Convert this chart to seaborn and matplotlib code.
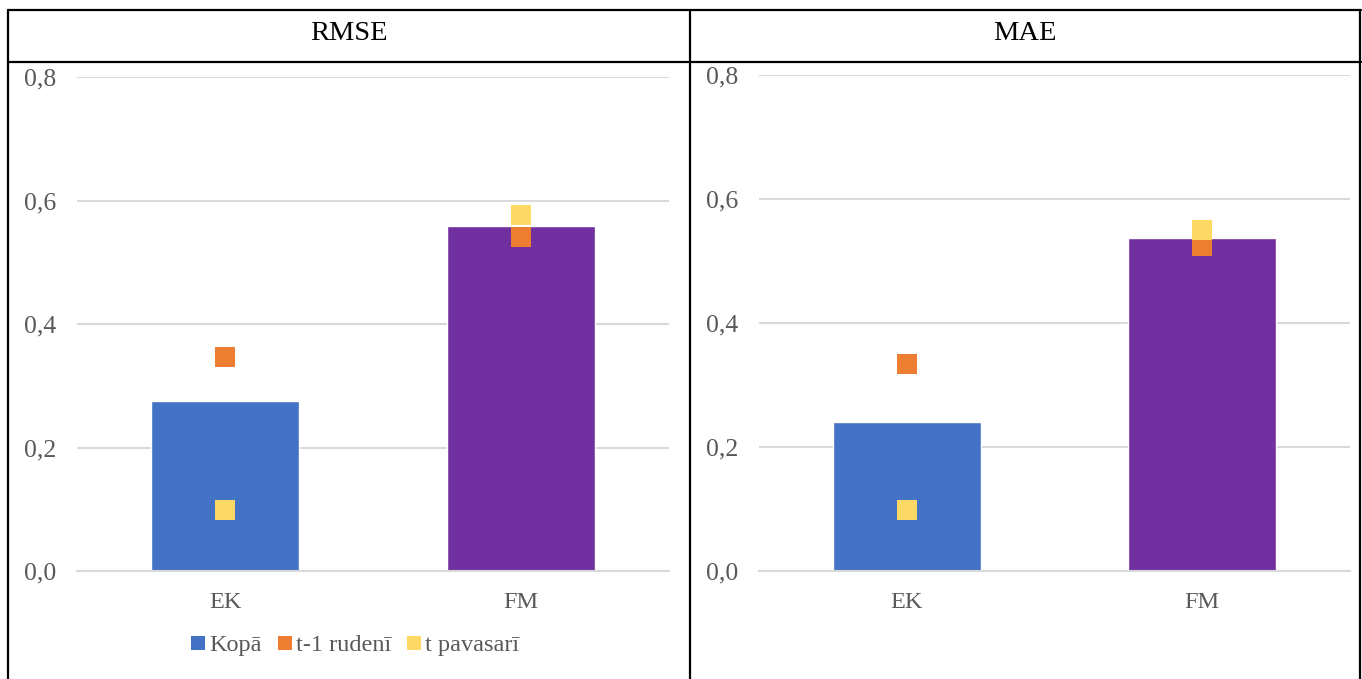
import matplotlib
matplotlib.use("Agg")
import matplotlib.pyplot as plt
import seaborn as sns
import pandas as pd
from matplotlib.lines import Line2D
from matplotlib.ticker import FuncFormatter

categories = ["EK", "FM"]
panel_titles = ["RMSE", "MAE"]
rmse_total = [0.275, 0.559]
rmse_autumn = [0.347, 0.541]
rmse_spring = [0.099, 0.577]
mae_total = [0.240, 0.537]
mae_autumn = [0.334, 0.525]
mae_spring = [0.098, 0.550]
legend_labels = ["Kopā", "t-1 rudenī", "t pavasarī"]
y_ticks = [0.0, 0.2, 0.4, 0.6, 0.8]

sns.set_theme(style="white")
plt.rcParams['font.family'] = ['Liberation Serif', 'DejaVu Serif']

W, H = 1362, 679
fig = plt.figure(figsize=(W / 100, H / 100), dpi=100)

bar_colors = ["#4472C4", "#7030A0"]
c_autumn = "#ED7D31"
c_spring = "#FFD966"
grid_c = "#D9D9D9"
text_c = "#595959"

def fx(px):
    return px / W

def fy(py):
    return 1 - py / H

axes_boxes = [
    (77, 669, 77, 571),
    (759, 1350, 75, 571),
]
datasets = [
    (rmse_total, rmse_autumn, rmse_spring),
    (mae_total, mae_autumn, mae_spring),
]

for (x0, x1, y0, y1), (tot, aut, spr) in zip(axes_boxes, datasets):
    ax = fig.add_axes([fx(x0), fy(y1), (x1 - x0) / W, (y1 - y0) / H])
    df = pd.DataFrame({"cat": categories, "total": tot, "autumn": aut, "spring": spr})
    sns.barplot(data=df, x="cat", y="total", hue="cat", palette=bar_colors,
                width=0.5, ax=ax, legend=False, saturation=1, zorder=2)
    sns.scatterplot(data=df, x="cat", y="autumn", marker="s", s=200, color=c_autumn,
                    linewidth=0, ax=ax, zorder=3)
    sns.scatterplot(data=df, x="cat", y="spring", marker="s", s=200, color=c_spring,
                    linewidth=0, ax=ax, zorder=4)
    ax.set_xlim(-0.5, 1.5)
    ax.set_ylim(0, 0.8)
    ax.set_yticks(y_ticks)
    ax.yaxis.set_major_formatter(FuncFormatter(lambda v, p: f"{v:.1f}".replace(".", ",")))
    ax.grid(axis="y", color=grid_c, linewidth=1.5, zorder=0)
    ax.set_axisbelow(True)
    for s in ["top", "right", "left"]:
        ax.spines[s].set_visible(False)
    ax.spines["bottom"].set_color(grid_c)
    ax.spines["bottom"].set_linewidth(1.5)
    ax.tick_params(axis="y", length=0, pad=15, labelsize=18.5, labelcolor=text_c)
    ax.tick_params(axis="x", length=0, pad=15, labelsize=17.5, labelcolor=text_c)
    ax.set_xlabel("")
    ax.set_ylabel("")

# Table-like frame
lw = 1.6
def hline(y, xa, xb):
    fig.add_artist(Line2D([fx(xa), fx(xb)], [fy(y), fy(y)], color="black", linewidth=lw))

def vline(x, ya, yb):
    fig.add_artist(Line2D([fx(x), fx(x)], [fy(ya), fy(yb)], color="black", linewidth=lw))

hline(10, 8, 1361)
hline(62, 8, 1361)
vline(8, 10, 679)
vline(690, 10, 679)
vline(1360, 10, 679)

fig.text(fx(349), fy(33), panel_titles[0], ha="center", va="center", fontsize=20.5, color="black")
fig.text(fx(1025), fy(33), panel_titles[1], ha="center", va="center", fontsize=20.5, color="black")

handles = [Line2D([], [], marker="s", linestyle="", markersize=10, color=c, markeredgewidth=0)
           for c in [bar_colors[0], c_autumn, c_spring]]
fig.legend(handles, legend_labels, loc="center", bbox_to_anchor=(fx(354), fy(645)),
           ncol=3, frameon=False, fontsize=17.5, labelcolor=text_c,
           handletextpad=0.05, columnspacing=0.55, handlelength=0.8)

fig.savefig("out.png", dpi=100)
